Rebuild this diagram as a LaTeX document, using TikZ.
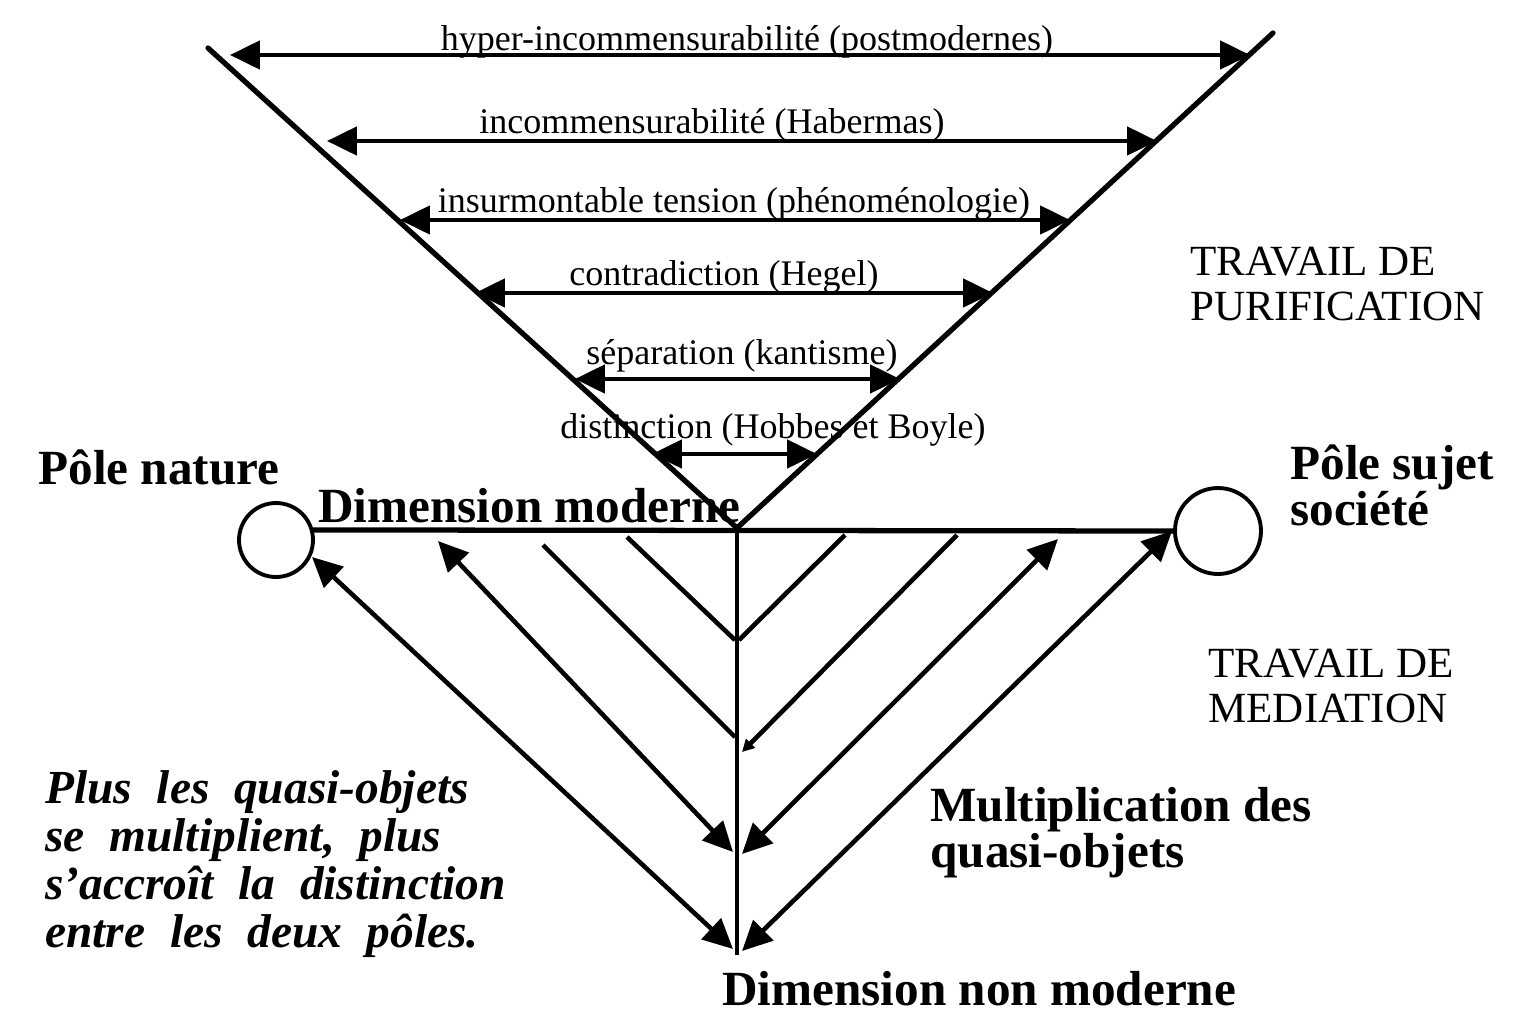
\documentclass[tikz,border=0pt]{standalone}
\usepackage{fontspec}
\setmainfont{Liberation Serif}
\usepackage{tikz}
\usetikzlibrary{arrows.meta,positioning,calc}

\newcommand{\notefont}{\fontsize{27}{27.2}\selectfont\bfseries\itshape\spaceskip=14pt plus 3pt\relax}

\begin{document}
\begin{tikzpicture}[
  x=0.02cm, y=-0.02cm,
  arm/.style={line width=3pt, line cap=round},
  purif/.style={<->, >={Triangle[length=17pt, width=16pt]}, line width=2.4pt},
  medi/.style={line width=2.6pt},
  mediarr/.style={medi, <->, >={Triangle[length=17pt, width=16pt]}},
  pole/.style={circle, draw, line width=2.2pt, inner sep=0pt},
  lab/.style={anchor=base, inner sep=0pt, font=\fontsize{20.5}{22}\selectfont},
  boldlab/.style={anchor=base west, inner sep=0pt, align=left, font=\fontsize{28}{26}\selectfont\bfseries},
  travail/.style={anchor=base west, inner sep=0pt, align=left, font=\fontsize{24.5}{25.5}\selectfont},
  plusnote/.style={anchor=base west, inner sep=0pt, align=left, font=\notefont}
]
\useasboundingbox (0,0) rectangle (1516,1018);

% The V of purification
\coordinate (armL) at (208,48);
\coordinate (armR) at (1273,33);
\coordinate (apex) at (737,528);
\coordinate (base) at (737,955);
\draw[arm] (armL) -- (apex) -- (armR);

% Purification arrows
\coordinate (h1l) at (230,55);  \coordinate (h1r) at (1250,55);
\coordinate (h2l) at (327,141); \coordinate (h2r) at (1157,141);
\coordinate (h3l) at (400,220); \coordinate (h3r) at (1070,220);
\coordinate (h4l) at (475,293); \coordinate (h4r) at (993,293);
\coordinate (h5l) at (575,379); \coordinate (h5r) at (900,379);
\coordinate (h6l) at (652,454); \coordinate (h6r) at (817,454);

\draw[purif] (h1l) -- (h1r);
\draw[purif] (h2l) -- (h2r);
\draw[purif] (h3l) -- (h3r);
\draw[purif] (h4l) -- (h4r);
\draw[purif] (h5l) -- (h5r);
\draw[purif] (h6l) -- (h6r);

\node[lab] (t1) at (747,50) {hyper-incommensurabilité (postmodernes)};
\node[lab] (t2) at (712,133) {incommensurabilité (Habermas)};
\node[lab] (t3) at (734,212) {insurmontable tension (phénoménologie)};
\node[lab] (t4) at (724,285) {contradiction (Hegel)};
\node[lab] (t5) at (742,364) {séparation (kantisme)};
\node[lab] (t6) at (773,438) {distinction (Hobbes et Boyle)};

% Poles and modern dimension
\node[pole, minimum size=1.48cm] (nat) at (276,540) {};
\node[pole, minimum size=1.72cm] (soc) at (1218,531) {};
\draw[arm] (nat.15) -- (soc.west);
\draw[medi] (apex) -- (base);

% Mediation lines
\coordinate (mAl) at (312,557);  \coordinate (mAlb) at (733,949);
\coordinate (mBl) at (438,541);  \coordinate (mBlb) at (733,852);
\coordinate (mCl) at (543,545);  \coordinate (mClb) at (735,737);
\coordinate (mDl) at (627,537);  \coordinate (mDlb) at (735,640);
\coordinate (mDr) at (845,535);  \coordinate (mDrb) at (739,640);
\coordinate (mCr) at (957,535);  \coordinate (mCrb) at (742,752);
\coordinate (mBr) at (1058,539); \coordinate (mBrb) at (742,854);
\coordinate (mAr) at (1172,531); \coordinate (mArb) at (742,951);

\draw[mediarr] (mAl) -- (mAlb);
\draw[mediarr] (mBl) -- (mBlb);
\draw[medi] (mCl) -- (mClb);
\draw[medi] (mDl) -- (mDlb);
\draw[medi] (mDr) -- (mDrb);
\draw[medi, -{Triangle[length=7pt, width=7pt]}] (mCr) -- (mCrb);
\draw[mediarr] (mBr) -- (mBrb);
\draw[mediarr] (mAr) -- (mArb);

% Texts (multi-line nodes sit on their last baseline)
\node[boldlab] (polnat) at (38,484) {Pôle nature};
\node[boldlab] (dimmod) at (318,522) {Dimension moderne};
\node[boldlab] (polsoc) at (1290,525) {Pôle sujet\\société};
\node[boldlab] (multi) at (930,867) {Multiplication des\\quasi-objets};
\node[boldlab] (dimnon) at (722,1005) {Dimension non moderne};

\node[travail] (trpur) at (1190,320) {TRAVAIL DE\\PURIFICATION};
\node[travail] (trmed) at (1208,722) {TRAVAIL DE\\MEDIATION};

\node[plusnote] (note) at (45,947) {Plus les quasi-objets\\se multiplient, plus\\s'accroît la distinction\\entre les deux pôles.};

\end{tikzpicture}
\end{document}
